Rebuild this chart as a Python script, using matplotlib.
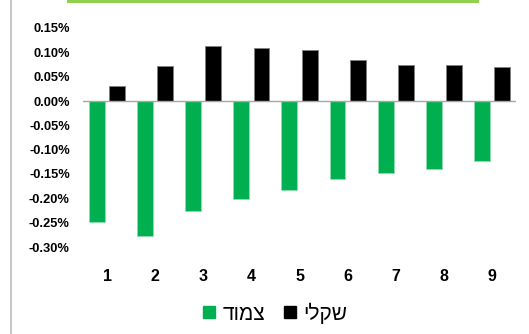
import numpy as np
import matplotlib.pyplot as plt
from matplotlib.lines import Line2D
from matplotlib.patches import Rectangle
from matplotlib.ticker import FuncFormatter

plt.rcParams['font.family'] = ['Liberation Sans', 'DejaVu Sans']

# horizon (years) and the two series, in percent
categories = [1, 2, 3, 4, 5, 6, 7, 8, 9]
tsamud = [-0.248, -0.277, -0.225, -0.202, -0.183, -0.160, -0.148, -0.139, -0.124]
shekli = [0.031, 0.071, 0.114, 0.108, 0.104, 0.084, 0.073, 0.074, 0.069]
yticks = [0.15, 0.10, 0.05, 0.00, -0.05, -0.10, -0.15, -0.20, -0.25, -0.30]

# Hebrew labels; matplotlib lays text out left to right, so reverse for display
label_tsamud = "צמוד"
label_shekli = "שקלי"

GREEN = "#00B050"
BLACK = "#000000"

fig = plt.figure(figsize=(5.29, 3.34), dpi=100)
ax = fig.add_axes([83 / 529, 1 - 247 / 334, 433 / 529, 219 / 334])

x = np.arange(len(categories))
width = 0.33
ax.bar(x - 0.21, tsamud, width, color=GREEN, edgecolor="#8fdcae", linewidth=0.6)
ax.bar(x + 0.21, shekli, width, color=BLACK, edgecolor="#7f7f7f", linewidth=0.6)

ax.set_xlim(-0.5, len(categories) - 0.5)
ax.set_ylim(-0.30, 0.15)
ax.axhline(0, color="#a6a6a6", linewidth=1.0, zorder=3)

for side in ["top", "right", "left", "bottom"]:
    ax.spines[side].set_visible(False)

ax.set_yticks(yticks)
ax.yaxis.set_major_formatter(FuncFormatter(lambda v, p: f"{v:.2f}%"))
ax.tick_params(axis="y", length=0, pad=9.5, labelsize=9.3)
for t in ax.get_yticklabels():
    t.set_fontweight("bold")

ax.set_xticks(x)
ax.set_xticklabels([str(c) for c in categories])
ax.tick_params(axis="x", length=0, pad=16, labelsize=11.5)
for t in ax.get_xticklabels():
    t.set_fontweight("bold")

handles = [
    Line2D([], [], marker="s", linestyle="none", markersize=8,
           markerfacecolor=GREEN, markeredgecolor=GREEN),
    Line2D([], [], marker="s", linestyle="none", markersize=8,
           markerfacecolor=BLACK, markeredgecolor=BLACK),
]
fig.legend(handles, [label_tsamud[::-1], label_shekli[::-1]], ncol=2,
           loc="center", bbox_to_anchor=(275 / 529, 1 - 313 / 334),
           frameon=False, fontsize=15, handlelength=0.6, handletextpad=0.35,
           columnspacing=0.9)

# left frame edge and the strip of the title box above the plot
fig.add_artist(Line2D([10.5 / 529, 10.5 / 529], [0, 1], color="#c8c8c8",
                      linewidth=1.5, transform=fig.transFigure))
fig.add_artist(Rectangle((67 / 529, 1 - 3 / 334), 412 / 529, 3 / 334,
                         facecolor="#92D050", edgecolor="none",
                         transform=fig.transFigure))

fig.savefig("out.png", dpi=100)
